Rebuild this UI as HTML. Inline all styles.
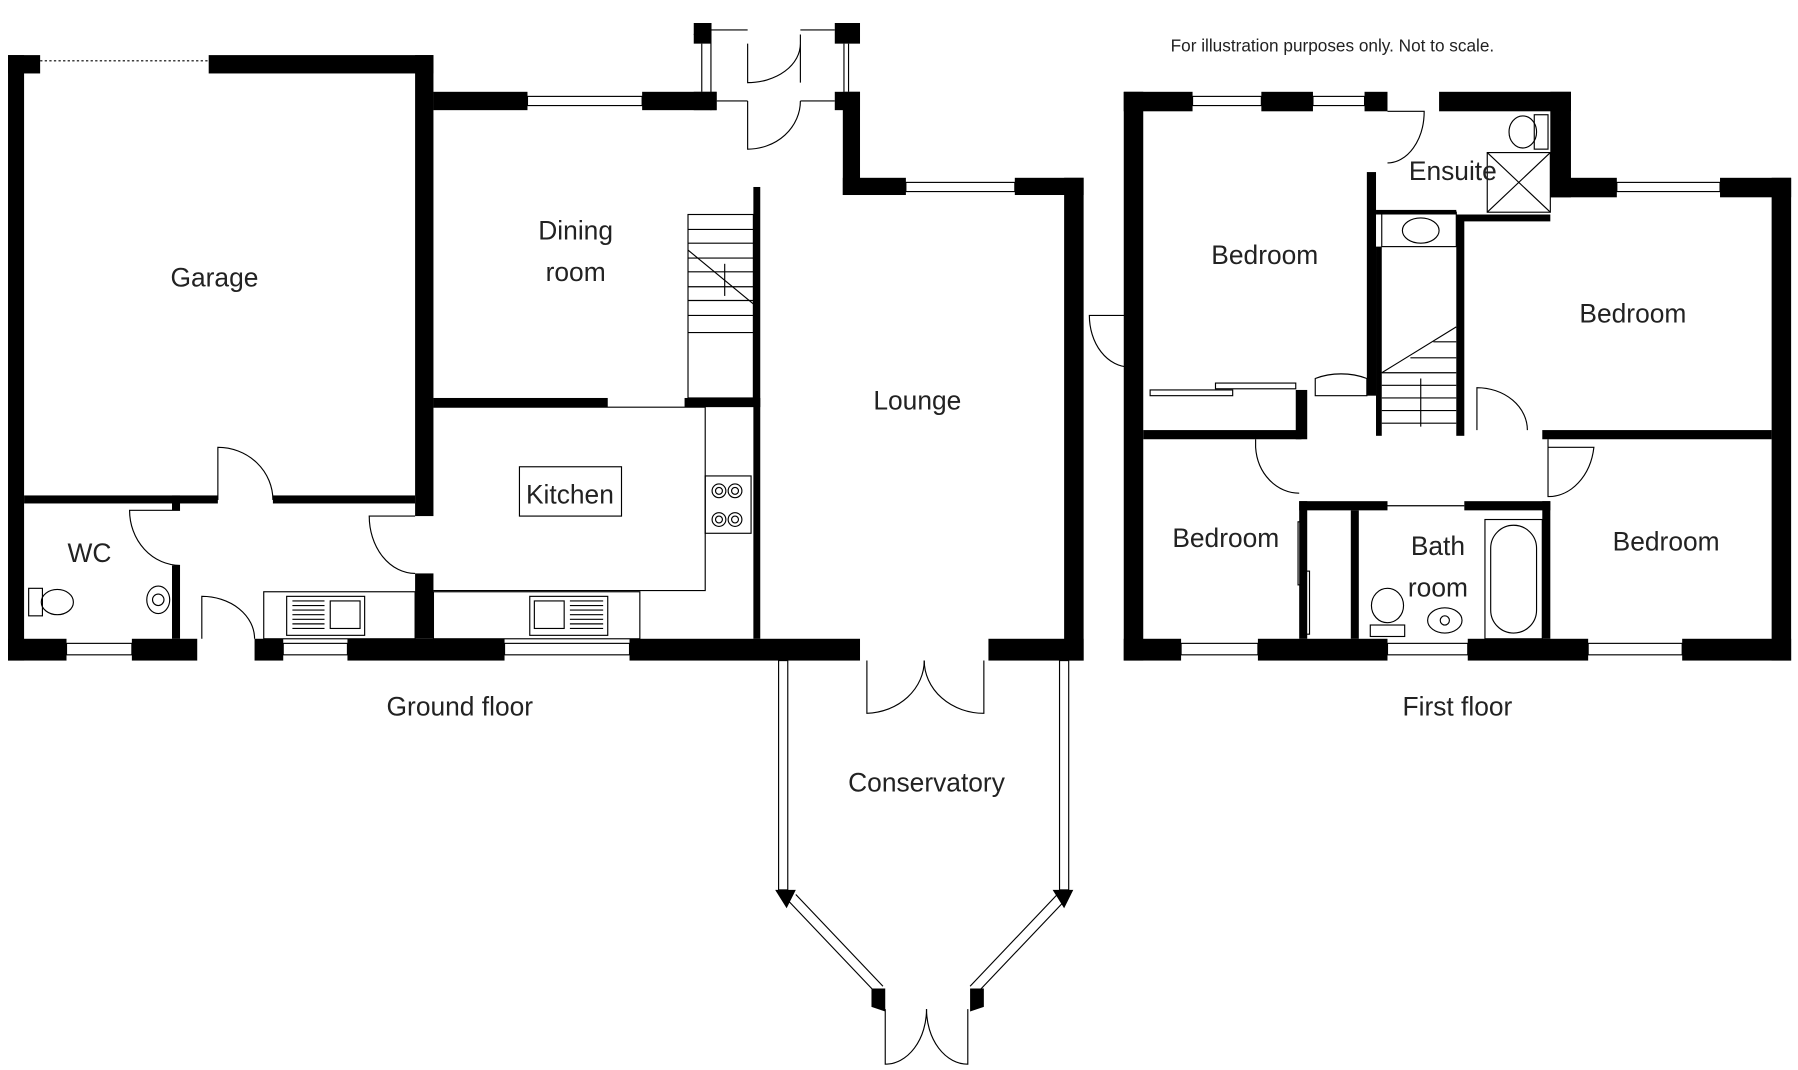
<!DOCTYPE html>
<html><head><meta charset="utf-8"><style>
html,body{margin:0;padding:0;background:#fff;}
svg{display:block;}
text{font-family:"Liberation Sans",sans-serif;fill:#222;}
</style></head><body>
<svg width="1798" height="1070" viewBox="0 0 1568 933" xmlns="http://www.w3.org/2000/svg">
<g fill="#000">
<!-- GROUND FLOOR walls -->
<rect x="7" y="48" width="14" height="528"/>
<rect x="7" y="48" width="28" height="16"/>
<rect x="182" y="48" width="196" height="16"/>
<rect x="362" y="48" width="16" height="402"/>
<rect x="378" y="80" width="82" height="16"/>
<rect x="560" y="80" width="65" height="16"/>
<rect x="21" y="432" width="169" height="7"/>
<rect x="238" y="432" width="124" height="7"/>
<rect x="150" y="432" width="7" height="13"/>
<rect x="150" y="493" width="7" height="64"/>
<rect x="7" y="557" width="51" height="19"/>
<rect x="115" y="557" width="57" height="19"/>
<rect x="222" y="557" width="25" height="19"/>
<rect x="303" y="557" width="137" height="19"/>
<rect x="549" y="557" width="201" height="19"/>
<rect x="362" y="500" width="16" height="57"/>
<rect x="378" y="347" width="152" height="8"/>
<rect x="597" y="347" width="66" height="8"/>
<rect x="657" y="163" width="6" height="394"/>
<rect x="735" y="80" width="15" height="90"/>
<rect x="735" y="155" width="55" height="15"/>
<rect x="885" y="155" width="60" height="15"/>
<rect x="928" y="155" width="17" height="421"/>
<rect x="862" y="557" width="83" height="19"/>
<!-- porch -->
<rect x="605" y="20" width="15" height="18"/>
<rect x="605" y="80" width="20" height="16"/>
<rect x="728" y="20" width="22" height="18"/>
<rect x="728" y="80" width="22" height="16"/>
<!-- conservatory posts -->
<polygon points="676,776 694,776 686,792"/>
<polygon points="918,776 936,776 928,792"/>
<polygon points="760,862 772,862 772,882 760,878"/>
<polygon points="846,862 858,862 858,878 846,882"/>
<!-- FIRST FLOOR walls -->
<rect x="980" y="80" width="17" height="496"/>
<rect x="980" y="80" width="60" height="17"/>
<rect x="1100" y="80" width="45" height="17"/>
<rect x="1190" y="80" width="20" height="17"/>
<rect x="1255" y="80" width="115" height="17"/>
<rect x="1352" y="80" width="18" height="92"/>
<rect x="1352" y="155" width="58" height="17"/>
<rect x="1500" y="155" width="62" height="17"/>
<rect x="1545" y="155" width="17" height="421"/>
<rect x="980" y="557" width="50" height="19"/>
<rect x="1097" y="557" width="113" height="19"/>
<rect x="1280" y="557" width="105" height="19"/>
<rect x="1467" y="557" width="95" height="19"/>
<rect x="1192" y="150" width="8" height="195"/>
<rect x="1200" y="183" width="70" height="4"/>
<rect x="1200" y="215" width="5" height="165"/>
<rect x="1270" y="187" width="7" height="193"/>
<rect x="1270" y="187" width="82" height="6"/>
<rect x="997" y="375" width="138" height="8"/>
<rect x="1130" y="340" width="10" height="43"/>
<rect x="1345" y="375" width="200" height="8"/>
<rect x="1133" y="437" width="77" height="8"/>
<rect x="1277" y="437" width="75" height="8"/>
<rect x="1133" y="437" width="7" height="120"/>
<rect x="1178" y="445" width="7" height="112"/>
<rect x="1345" y="437" width="7" height="120"/>
</g>
<g fill="none" stroke="#000" stroke-width="1">
<!-- windows -->
<line x1="35" y1="53" x2="182" y2="53" stroke-dasharray="2,2"/>
<rect x="460" y="84" width="100" height="8"/>
<rect x="58" y="561" width="57" height="10"/>
<rect x="247" y="561" width="56" height="10"/>
<rect x="440" y="561" width="109" height="10"/>
<rect x="790" y="159" width="95" height="8"/>
<rect x="1040" y="84" width="60" height="8"/>
<rect x="1145" y="84" width="45" height="8"/>
<rect x="1410" y="159" width="90" height="8"/>
<rect x="1030" y="561" width="67" height="10"/>
<rect x="1210" y="561" width="70" height="10"/>
<rect x="1385" y="561" width="82" height="10"/>
<!-- conservatory -->
<rect x="679" y="576" width="8" height="200"/>
<rect x="924" y="576" width="8" height="200"/>
<line x1="688" y1="786" x2="764" y2="866"/><line x1="694" y1="780" x2="770" y2="860"/>
<line x1="928" y1="786" x2="852" y2="866"/><line x1="922" y1="780" x2="846" y2="860"/>
<!-- doors -->
<path d="M756,576 V622 A52,46 0 0 0 806,576"/>
<path d="M858,576 V622 A52,46 0 0 1 806,576"/>
<path d="M772,880 V928 A36,48 0 0 0 808,880"/>
<path d="M844,880 V928 A36,48 0 0 1 808,880"/>
<path d="M190,436 V390 A48,46 0 0 1 238,436"/>
<path d="M157,445 H113 A44,48 0 0 0 157,493"/>
<path d="M176,557 V520 A46,37 0 0 1 222,557"/>
<path d="M362,450 H322 A40,50 0 0 0 362,500"/>
<path d="M652,88 V130 A46,42 0 0 0 698,88"/>
<path d="M652,38 V72 A46,34 0 0 0 698,38 M698,30 V72"/>
<line x1="620" y1="30" x2="605" y2="30"/><line x1="620" y1="20" x2="620" y2="96"/><line x1="612" y1="38" x2="612" y2="80"/><line x1="740" y1="38" x2="740" y2="80"/><line x1="736" y1="38" x2="736" y2="80"/>
<line x1="625" y1="88" x2="652" y2="88"/><line x1="698" y1="88" x2="728" y2="88"/>
<line x1="620" y1="26" x2="652" y2="26"/><line x1="698" y1="26" x2="728" y2="26"/>
<path d="M985,275 H950 A35,45 0 0 0 985,320"/>
<path d="M1210,97 H1242 A32,45 0 0 1 1210,142"/>
<path d="M1192,345 H1147 V330 A45,30 0 0 1 1192,330 Z"/>
<path d="M1095,383 V390 A38,43 0 0 0 1133,430"/>
<path d="M1288,375 V338 A44,37 0 0 1 1332,375"/>
<path d="M1350,383 V433 A40,50 0 0 0 1390,390 H1350"/>
<line x1="1210" y1="441" x2="1277" y2="441"/>
<!-- stairs GF -->
<rect x="600" y="187" width="57" height="160"/>
<path d="M600,200 H657 M600,212 H657 M600,225 H657 M600,237 H657 M600,250 H657 M600,262 H657 M600,275 H657 M600,290 H657"/>
<line x1="600" y1="218" x2="657" y2="265"/>
<line x1="632" y1="230" x2="632" y2="258"/>
<!-- stairs FF -->
<path d="M1205,325 H1270 M1205,336 H1270 M1205,347 H1270 M1205,358 H1270 M1205,369 H1270 M1230,312 H1270 M1250,298 H1270"/>
<line x1="1205" y1="325" x2="1270" y2="285"/>
<line x1="1239" y1="330" x2="1239" y2="372"/>
<!-- kitchen -->
<polyline points="378,355 615,355 615,515 378,515"/>
<rect x="453" y="407" width="89" height="43"/>
<rect x="615" y="415" width="40" height="50"/>
<circle cx="627" cy="428" r="6"/><circle cx="641" cy="428" r="6"/><circle cx="627" cy="453" r="6"/><circle cx="641" cy="453" r="6"/>
<circle cx="627" cy="428" r="3"/><circle cx="641" cy="428" r="3"/><circle cx="627" cy="453" r="3"/><circle cx="641" cy="453" r="3"/>
<rect x="230" y="516" width="132" height="41"/>
<rect x="250" y="520" width="68" height="34"/>
<rect x="378" y="516" width="180" height="41"/>
<rect x="462" y="520" width="68" height="34"/>
<rect x="288" y="524" width="26" height="24"/><rect x="466" y="524" width="26" height="24"/>
<path d="M255,524 H283 M255,528 H283 M255,532 H283 M255,536 H283 M255,540 H283 M255,544 H283 M255,548 H283"/>
<path d="M497,524 H526 M497,528 H526 M497,532 H526 M497,536 H526 M497,540 H526 M497,544 H526 M497,548 H526"/>
<!-- WC -->
<rect x="25" y="513" width="12" height="24"/><ellipse cx="50" cy="525" rx="14" ry="11"/>
<ellipse cx="138" cy="523" rx="10" ry="12"/><circle cx="138" cy="523" r="5"/>
<!-- ensuite -->
<rect x="1297" y="133" width="55" height="52"/>
<line x1="1297" y1="133" x2="1352" y2="185"/><line x1="1352" y1="133" x2="1297" y2="185"/>
<rect x="1338" y="100" width="12" height="30"/><ellipse cx="1328" cy="115" rx="12" ry="14"/>
<rect x="1205" y="185" width="65" height="30"/><ellipse cx="1239" cy="201" rx="16" ry="11"/>
<!-- wardrobes -->
<rect x="1003" y="340" width="72" height="5"/><rect x="1060" y="334" width="70" height="5"/>
<rect x="1132" y="455" width="5" height="55"/><rect x="1137" y="498" width="5" height="55"/>
<!-- bathroom -->
<rect x="1295" y="453" width="50" height="104"/>
<rect x="1300" y="458" width="40" height="94" rx="20"/>
<rect x="1195" y="545" width="30" height="10"/><ellipse cx="1210" cy="528" rx="14" ry="15"/>
<ellipse cx="1260" cy="541" rx="15" ry="11"/><circle cx="1260" cy="541" r="4"/>
</g>
<text x="187" y="250" font-size="23" text-anchor="middle">Garage</text>
<text x="502" y="209" font-size="23" text-anchor="middle">Dining</text>
<text x="502" y="245" font-size="23" text-anchor="middle">room</text>
<text x="800" y="357" font-size="23" text-anchor="middle">Lounge</text>
<text x="497" y="439" font-size="23" text-anchor="middle">Kitchen</text>
<text x="78" y="490" font-size="23" text-anchor="middle">WC</text>
<text x="401" y="624" font-size="23" text-anchor="middle">Ground floor</text>
<text x="808" y="690" font-size="23" text-anchor="middle">Conservatory</text>
<text x="1162" y="45" font-size="15" text-anchor="middle">For illustration purposes only. Not to scale.</text>
<text x="1103" y="230" font-size="23" text-anchor="middle">Bedroom</text>
<text x="1267" y="157" font-size="23" text-anchor="middle">Ensuite</text>
<text x="1424" y="281" font-size="23" text-anchor="middle">Bedroom</text>
<text x="1069" y="477" font-size="23" text-anchor="middle">Bedroom</text>
<text x="1254" y="484" font-size="23" text-anchor="middle">Bath</text>
<text x="1254" y="520" font-size="23" text-anchor="middle">room</text>
<text x="1453" y="480" font-size="23" text-anchor="middle">Bedroom</text>
<text x="1271" y="624" font-size="23" text-anchor="middle">First floor</text>
</svg>
</body></html>
